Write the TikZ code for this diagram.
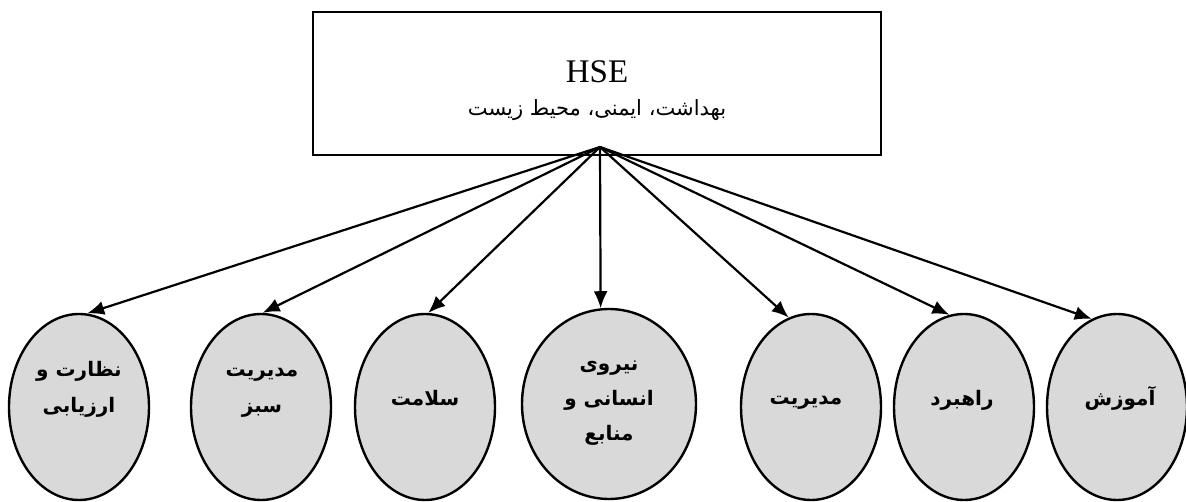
\documentclass[tikz,border=0pt]{standalone}
\usepackage{fontspec}
\usepackage{xcolor}
\usetikzlibrary{shapes.geometric, arrows.meta}
\setmainfont{Liberation Serif}
\newfontfamily\arabicfont[Script=Arabic]{DejaVu Sans}
\TeXXeTstate=1
\definecolor{bubblegray}{HTML}{D9D9D9}
\tikzset{
  bubble/.style={ellipse, draw, line width=2.4pt, fill=bubblegray, inner sep=0pt, minimum width=140pt, minimum height=186pt},
  bubbletext/.style={align=center, font=\arabicfont\bfseries\fontsize{20}{36}\selectfont, inner sep=0pt},
  link/.style={line width=2.2pt, -{Latex[length=17pt, width=14pt]}}
}

\begin{document}
\begin{tikzpicture}[x=1pt, y=-1pt]
\useasboundingbox (0, 0) rectangle (1186, 502);
\node [draw, line width=1.6pt, minimum width=568pt, minimum height=143pt, inner sep=0pt] (hse) at (597, 83.5) {};
\node [align=center, inner sep=0pt] (title) at (597, 72) {\fontsize{33}{33}\selectfont HSE};
\node [align=center, inner sep=0pt, font=\arabicfont\fontsize{21}{24}\selectfont] (subtitle) at (597, 110) {\beginR بهداشت، ایمنی، محیط زیست\endR};
\coordinate (hub) at (600, 147);
%Text
\node [bubble] (e1) at (79, 407) {};
\node [bubble] (e2) at (261, 407) {};
\node [bubble] (e3) at (425, 407) {};
\node [bubble, minimum width=174pt, minimum height=190pt] (e4) at (609, 404) {};
\node [bubble] (e5) at (811, 407) {};
\node [bubble] (e6) at (964, 407) {};
\node [bubble] (e7) at (1117, 407) {};
\node [bubbletext] (t1) at (79, 389) {\beginR نظارت و\endR\\\beginR ارزیابی\endR};
\node [bubbletext] (t2) at (262, 393) {\beginR مدیریت\endR\\\beginR سبز\endR};
\node [bubbletext] (t3) at (425, 398) {\beginR سلامت\endR};
\node [bubbletext, font=\arabicfont\bfseries\fontsize{20}{35}\selectfont] (t4) at (609, 403) {\beginR نیروی\endR\\\beginR انسانی و\endR\\\beginR منابع\endR};
\node [bubbletext] (t5) at (806, 403) {\beginR مدیریت\endR};
\node [bubbletext] (t6) at (962, 400) {\beginR راهبرد\endR};
\node [bubbletext] (t7) at (1120, 398) {\beginR آموزش\endR};
\draw [link] (hub) -- (e1.85);
\draw [link] (hub) -- (e2.89);
\draw [link] (hub) -- (e3.88);
\draw [link] (hub) -- (e4.95);
\draw [link] (hub) -- (e5.104);
\draw [link] (hub) -- (e6.99);
\draw [link] (hub) -- (e7.106);
\end{tikzpicture}
\end{document}
